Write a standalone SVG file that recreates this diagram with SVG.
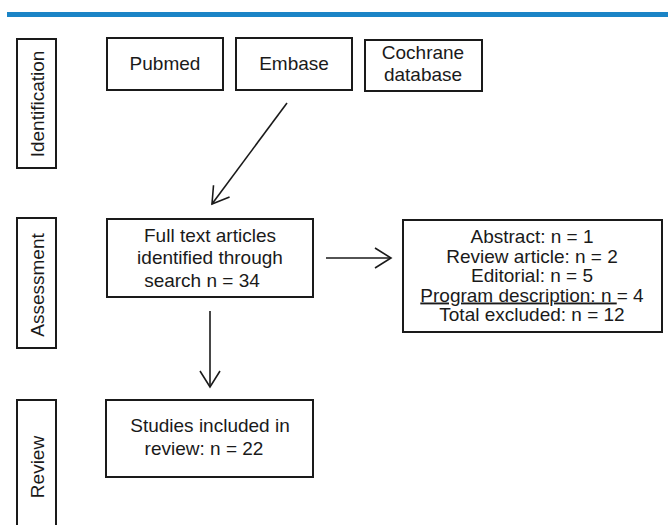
<svg xmlns="http://www.w3.org/2000/svg" width="668" height="525" viewBox="0 0 668 525">
<defs>
<style>
.box{fill:#fff;stroke:#1a1a1a;stroke-width:2}
.t{font-family:"Liberation Sans",Arial,sans-serif;font-size:19px;fill:#1a1a1a;text-anchor:middle}
.c{stroke:#1a1a1a;stroke-width:1.6;fill:none}
</style>
<marker id="ah" markerUnits="userSpaceOnUse" viewBox="-20 -12 22 24" refX="0" refY="0" markerWidth="22" markerHeight="24" orient="auto">
<path d="M-16,-10 L0,0 L-16,10" fill="none" stroke="#1a1a1a" stroke-width="1.6"/>
</marker>
</defs>
<rect x="7" y="12" width="661" height="5" fill="#1b84c6"/>
<g id="stage-identification">
<rect class="box" x="17" y="39" width="39" height="129"/>
<text class="t" transform="translate(43.5,104) rotate(-90)">Identification</text>
</g>
<g id="stage-assessment">
<rect class="box" x="17" y="218" width="39" height="130"/>
<text class="t" transform="translate(43.5,285) rotate(-90)">Assessment</text>
</g>
<g id="stage-review">
<rect class="box" x="17" y="400" width="39" height="135"/>
<text class="t" transform="translate(43.5,467) rotate(-90)">Review</text>
</g>
<g id="pubmed">
<rect class="box" x="107" y="38" width="116" height="52"/>
<text class="t" x="165" y="70">Pubmed</text>
</g>
<g id="embase">
<rect class="box" x="236" y="38" width="116" height="52"/>
<text class="t" x="294" y="70">Embase</text>
</g>
<g id="cochrane">
<rect class="box" x="365" y="40" width="117" height="51"/>
<text class="t" x="423" y="59">Cochrane</text>
<text class="t" x="423" y="81">database</text>
</g>
<g id="fulltext">
<rect class="box" x="107" y="219" width="206" height="78"/>
<text class="t" x="210" y="242">Full text articles</text>
<text class="t" x="210" y="264">identified through</text>
<text class="t" x="202" y="287">search n = 34</text>
</g>
<g id="excluded">
<rect class="box" x="403" y="220" width="259" height="112"/>
<text class="t" x="532" y="243">Abstract: n = 1</text>
<text class="t" x="532" y="262.5">Review article: n = 2</text>
<text class="t" x="532" y="282">Editorial: n = 5</text>
<text class="t" x="532" y="301.5"><tspan text-decoration="underline">Program description: n </tspan>= 4</text>
<text class="t" x="532" y="321">Total excluded: n = 12</text>
</g>
<g id="included">
<rect class="box" x="106" y="400" width="207" height="77"/>
<text class="t" x="210" y="432">Studies included in</text>
<text class="t" x="204" y="455">review: n = 22</text>
</g>
<g id="connectors">
<line class="c" x1="287" y1="103" x2="212" y2="204" marker-end="url(#ah)"/>
<line class="c" x1="326" y1="258" x2="391" y2="258" marker-end="url(#ah)"/>
<line class="c" x1="210" y1="311" x2="210" y2="387" marker-end="url(#ah)"/>
</g>
</svg>
